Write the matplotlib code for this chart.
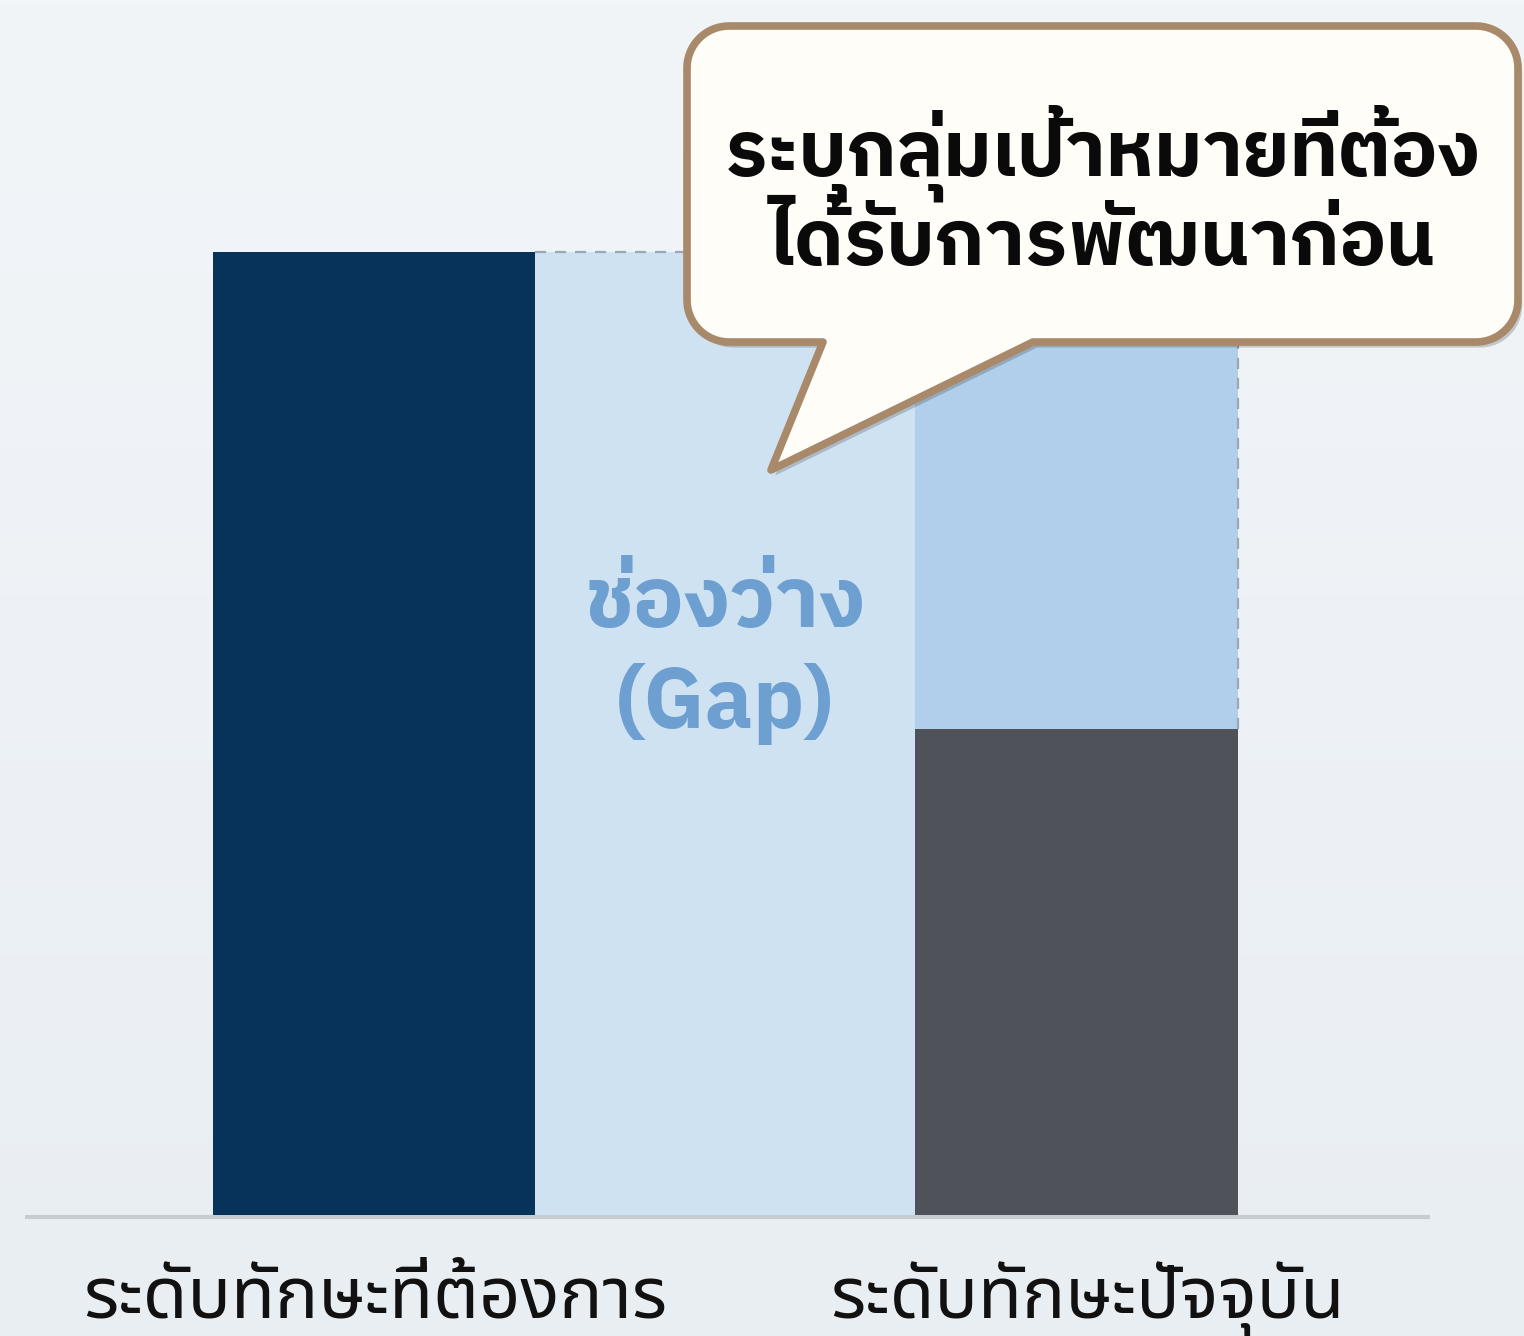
import numpy as np
import matplotlib
matplotlib.use("Agg")
import matplotlib.pyplot as plt
from matplotlib.patches import Polygon
from matplotlib.colors import LinearSegmentedColormap
import matplotlib.patheffects as pe

# ---- data ----
categories = ["ระดับทักษะที่ต้องการ", "ระดับทักษะปัจจุบัน"]
required_level = 100
current_level = 50.5
gap_title = "ช่องว่าง"
gap_subtitle = "(Gap)"
callout_lines = ["ระบุกลุ่มเป้าหมายที่ต้อง", "ได้รับการพัฒนาก่อน"]

W, H = 1524, 1336
FONT_BOLD = ["IBM Plex Sans Thai", "DejaVu Sans"]
FONT_LABEL = ["Noto Sans Thai", "DejaVu Sans"]

fig = plt.figure(figsize=(W / 100, H / 100), dpi=100)
fig.patch.set_facecolor("#eef2f6")

# background gradient
bg = fig.add_axes([0, 0, 1, 1], zorder=0)
grad = np.linspace(0, 1, 256).reshape(-1, 1)
cmap_bg = LinearSegmentedColormap.from_list("bg", ["#f2f5f8", "#e9eef3"])
bg.imshow(grad, aspect="auto", cmap=cmap_bg, extent=[0, 1, 0, 1], origin="upper")
bg.set_axis_off()

ax = fig.add_axes([0, 0, 1, 1], zorder=1)
ax.patch.set_alpha(0)
# pixel mapping: y=0 -> 1215px, y=100 -> 252px ; x=0 -> 374px, x=1 -> 1076.5px
ppu_y = (1215 - 252) / 100.0
ax.set_ylim(-(H - 1215) / ppu_y, 1215 / ppu_y)
ppu_x = 1076.5 - 374
ax.set_xlim(-374 / ppu_x, 1 + (W - 1076.5) / ppu_x)
ax.set_axis_off()

def py(p):  # pixel row -> data y
    return (1215 - p) / ppu_y

def px(p):  # pixel column -> data x
    return (p - 374) / ppu_x

x = np.arange(len(categories))
bw = 0.459

# gap band between bars (pale)
gap_left = x[0] + bw / 2
gap_right = x[1] - bw / 2
ax.bar((gap_left + gap_right) / 2, required_level, width=gap_right - gap_left,
       color="#cfe2f2", zorder=1, linewidth=0)

# required bar
ax.bar(x[0], required_level, width=bw, color="#07325a", zorder=3, linewidth=0)
# current bar: dark part + light-blue gap part
ax.bar(x[1], current_level, width=bw, color="#4f5259", zorder=3, linewidth=0)
ax.bar(x[1], required_level - current_level, bottom=current_level, width=bw,
       color="#b1cfea", zorder=2, linewidth=0)

# dashed outlines of target level
ax.plot([gap_left, x[1] + bw / 2], [required_level, required_level],
        ls=(0, (5, 4)), color="#9aa7b5", lw=1.6, zorder=4)
ax.plot([x[1] + bw / 2, x[1] + bw / 2], [current_level, required_level],
        ls=(0, (5, 4)), color="#9aa7b5", lw=1.6, zorder=4)

# baseline
ax.plot([px(25), px(1430)], [py(1217), py(1217)],
        color="#c7ccd3", lw=3, zorder=0.5, solid_capstyle="butt")

# gap label
gx = (gap_left + gap_right) / 2
ax.text(gx, py(627), gap_title, ha="center", va="baseline", fontsize=61,
        fontweight="bold", color="#6d9fd0", family=FONT_BOLD, zorder=5)
ax.text(gx, py(728), gap_subtitle, ha="center", va="baseline", fontsize=61,
        fontweight="bold", color="#6d9fd0", family=FONT_BOLD, zorder=5)

# category labels
label_x = [px(375), px(1087)]
for lx, lab in zip(label_x, categories):
    ax.text(lx, py(1318), lab, ha="center", va="baseline",
            fontsize=52, color="#111111", family=FONT_LABEL, zorder=5)

# ---- speech bubble (figure pixel coords, top-left origin) ----
def arc(cx, cy, r, a0, a1, n=20):
    t = np.radians(np.linspace(a0, a1, n))
    return [(cx + r * np.cos(t_), cy + r * np.sin(t_)) for t_ in t]

L, R, T, B, rad = 687, 1518, 26, 342, 42
pts = []
pts += arc(L + rad, T + rad, rad, 180, 270)           # top-left
pts += arc(R - rad, T + rad, rad, 270, 360)           # top-right
pts += arc(R - rad, B - rad, rad, 0, 90)              # bottom-right
pts += [(1033, B), (771, 470), (823, B)]              # tail
pts += arc(L + rad, B - rad, rad, 90, 180)            # bottom-left
pts = np.array(pts)
fx = pts[:, 0] / W
fy = 1 - pts[:, 1] / H
bubble = Polygon(np.column_stack([fx, fy]), closed=True, transform=fig.transFigure,
                 facecolor="#fffdf7", edgecolor="#a8896a", lw=5.5, zorder=10,
                 joinstyle="round",
                 path_effects=[pe.SimplePatchShadow(offset=(3, -4), shadow_rgbFace="#000000", alpha=0.18),
                               pe.Normal()])
fig.add_artist(bubble)

for line, base in zip(callout_lines, [175, 265]):
    fig.text(1103 / W, 1 - base / H, line, ha="center", va="baseline",
             fontsize=56, fontweight="bold", color="#0a0a0a", family=FONT_BOLD,
             zorder=11)

fig.savefig("out.png", dpi=100, facecolor=fig.get_facecolor())
